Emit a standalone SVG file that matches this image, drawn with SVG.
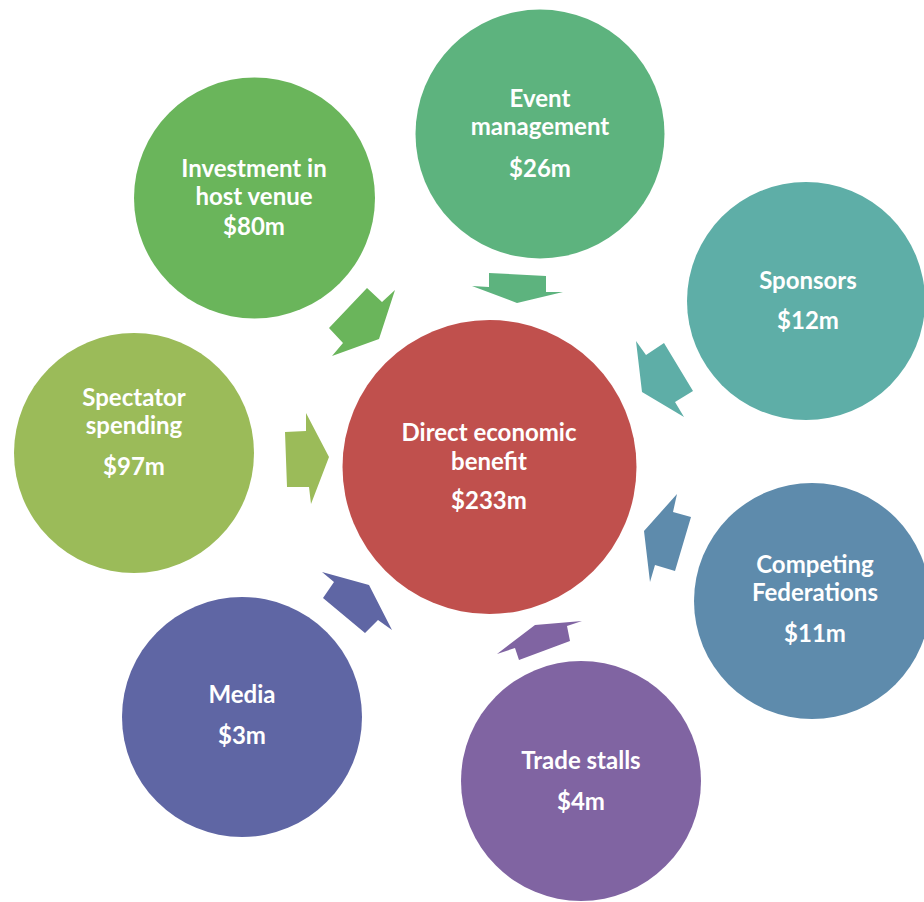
<svg xmlns="http://www.w3.org/2000/svg" width="924" height="902" viewBox="0 0 924 902">
<style>
text{font-family:Lato,"Open Sans","Liberation Sans",sans-serif;font-weight:bold;font-size:24px;fill:#ffffff;text-anchor:middle}
</style>
<rect width="924" height="902" fill="#ffffff"/>
<g id="connectors">
<polygon points="489,273 546,276 546,292 563,292 517,303 472,286 489,287" fill="#5db37e"/>
<polygon points="329,328 367,288 382,302 395,290 379,339 332,356 343,343" fill="#6ab55b"/>
<polygon points="636,341 646,355 664,343 693,391 675,402 684,417 642,392" fill="#5eaea7"/>
<polygon points="285,432 306,431 306,413 329,457 311,504 309,487 287,487" fill="#9bbb59"/>
<polygon points="677,494 673,512 691,517 675,571 655,565 650,582 644,531" fill="#5e8bac"/>
<polygon points="582,621 567,626 570,641 519,660 515,648 497,654 535,625" fill="#8064a2"/>
<polygon points="322,572 369,585 392,630 378,620 365,633 323,598 334,582" fill="#5f66a4"/>
</g>
<g id="investment">
<circle cx="254.5" cy="198" r="120.5" fill="#6ab55b"/>
<text x="254" y="177">Investment in</text>
<text x="254" y="205">host venue</text>
<text x="254" y="235">$80m</text>
</g>
<g id="event">
<circle cx="540" cy="134" r="124.5" fill="#5db37e"/>
<text x="540" y="107">Event</text>
<text x="540" y="135">management</text>
<text x="540" y="177">$26m</text>
</g>
<g id="sponsors">
<circle cx="806" cy="301" r="119" fill="#5eaea7"/>
<text x="808" y="289">Sponsors</text>
<text x="808" y="329">$12m</text>
</g>
<g id="spectator">
<circle cx="134" cy="453" r="120" fill="#9bbb59"/>
<text x="134" y="406">Spectator</text>
<text x="134" y="434">spending</text>
<text x="134" y="475">$97m</text>
</g>
<g id="direct">
<circle cx="489.5" cy="467" r="147" fill="#c0504d"/>
<text x="489" y="441">Direct economic</text>
<text x="489" y="470">benefit</text>
<text x="489" y="509">$233m</text>
</g>
<g id="federations">
<circle cx="812" cy="601" r="118" fill="#5e8bac"/>
<text x="815" y="573">Competing</text>
<text x="815" y="601">Federations</text>
<text x="815" y="642">$11m</text>
</g>
<g id="trade">
<circle cx="581" cy="781" r="120" fill="#8064a2"/>
<text x="581" y="769">Trade stalls</text>
<text x="581" y="810">$4m</text>
</g>
<g id="media">
<circle cx="242" cy="717" r="120" fill="#5f66a4"/>
<text x="242" y="703">Media</text>
<text x="242" y="744">$3m</text>
</g>
</svg>
